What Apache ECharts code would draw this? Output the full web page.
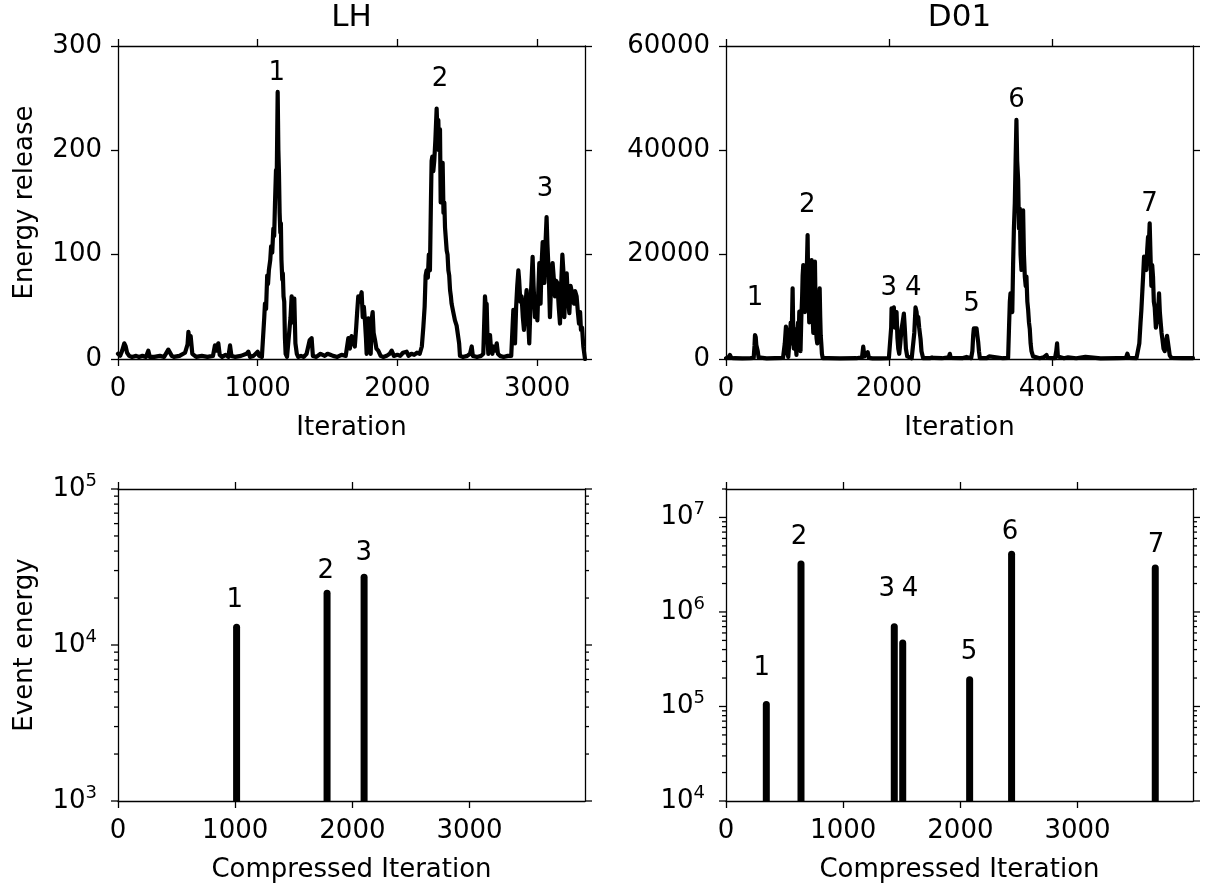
<!DOCTYPE html>
<html><head><meta charset="utf-8">
<script src="https://cdn.jsdelivr.net/npm/echarts@6/dist/echarts.min.js"></script>
<style>html,body{margin:0;padding:0;background:#fff;}#c{width:1206px;height:885px;}</style>
</head><body><div id="c"></div>
<script>
// ---------------- DATA ----------------
const panelTitles = ['LH', 'D01'];
const xNameTop = 'Iteration';
const xNameBottom = 'Compressed Iteration';
const yNameTop = 'Energy release';
const yNameBottom = 'Event energy';

// LH energy release time series [iteration, energy]
const lhSeries = [
[0,5],[15,3],[30,8],[45,15],[55,12],[65,6],[80,3],[100,2],[130,3],[150,2],[175,3],[200,2],[217,8],[228,2],[260,2],[300,3],[330,2],[360,9],[372,10],[385,3],[400,2],[440,3],[480,6],[498,14],[504,26],[512,18],[520,22],[532,5],[560,2],[600,3],[640,2],[680,3],[694,13],[705,8],[718,15],[728,4],[745,2],[770,4],[790,2],[802,13],[812,3],[840,2],[880,3],[920,5],[933,7],[945,2],[970,3],[1000,7],[1010,3],[1030,2],[1040,3],
[1047,40],[1052,53],[1060,48],[1068,80],[1074,72],[1080,85],[1090,95],[1096,108],[1104,102],[1112,125],[1118,118],[1124,150],[1131,181],[1136,170],[1143,256],[1148,200],[1152,180],[1157,140],[1162,121],[1166,130],[1170,95],[1176,76],[1180,82],[1185,60],[1190,55],[1195,20],[1200,5],[1210,2],[1220,3],[1235,40],[1243,60],[1250,35],[1255,50],[1262,58],[1270,15],[1280,5],[1290,2],[1310,3],[1330,2],[1350,5],[1372,18],[1386,20],[1395,3],[1420,2],[1450,5],[1480,3],[1500,5],[1520,4],[1540,3],[1570,2],[1600,4],[1630,3],
[1649,20],[1660,10],[1672,22],[1685,21],[1695,12],[1705,30],[1712,45],[1720,60],[1730,55],[1744,64],[1752,40],[1760,50],[1768,36],[1775,20],[1780,5],[1786,30],[1792,39],[1800,20],[1809,5],[1816,38],[1823,45],[1830,25],[1840,18],[1850,10],[1863,8],[1880,3],[1900,2],[1923,3],[1945,5],[1959,8],[1975,3],[2000,4],[2020,3],[2040,6],[2066,7],[2080,3],[2100,5],[2120,4],[2140,6],[2160,5],
[2175,12],[2186,31],[2195,50],[2202,80],[2209,85],[2218,78],[2225,100],[2233,85],[2240,150],[2245,190],[2250,194],[2257,180],[2264,190],[2272,210],[2281,240],[2287,215],[2293,229],[2298,200],[2305,220],[2310,150],[2316,170],[2324,188],[2330,140],[2336,150],[2341,126],[2347,115],[2353,104],[2359,100],[2365,85],[2371,80],[2377,66],[2383,60],[2388,53],[2400,45],[2412,37],[2424,32],[2436,31],[2442,15],[2448,3],[2470,2],[2500,3],[2520,5],[2532,12],[2540,3],[2570,2],[2600,3],
[2615,5],[2627,60],[2633,50],[2639,53],[2645,20],[2651,5],[2657,15],[2663,23],[2670,10],[2680,5],[2687,12],[2700,8],[2711,15],[2720,5],[2734,3],[2760,2],[2790,3],[2815,3],
[2830,47],[2836,30],[2842,15],[2850,50],[2858,70],[2866,85],[2872,75],[2880,55],[2889,60],[2898,40],[2906,28],[2915,50],[2925,66],[2935,40],[2944,15],[2955,60],[2962,80],[2968,98],[2975,70],[2985,40],[2993,55],[3002,37],[3010,70],[3016,92],[3020,75],[3025,53],[3032,90],[3040,112],[3046,90],[3052,73],[3060,110],[3068,136],[3074,110],[3080,92],[3086,70],[3092,40],[3100,70],[3111,92],[3118,80],[3128,60],[3136,75],[3145,73],[3155,50],[3164,34],[3172,70],[3181,100],[3188,85],[3195,40],[3203,70],[3212,82],[3220,60],[3231,44],[3240,70],[3247,69],[3255,60],[3264,53],[3272,65],[3283,60],[3292,45],[3300,34],[3308,45],[3314,28],[3322,30],[3331,12],[3343,0]
];

// D01 energy release time series [iteration, energy]
const d01Series = [
[0,150],[30,300],[49,770],[65,200],[100,150],[200,120],[300,150],[340,200],[350,2500],[356,4600],[365,4200],[372,2700],[380,3000],[390,1500],[400,300],[420,150],[500,130],[600,150],[700,200],
[710,400],[722,3000],[736,6200],[745,5000],[752,1200],[765,400],[775,2500],[785,4500],[795,7000],[805,3000],[818,13550],[825,6000],[832,2000],[840,4000],[847,5750],[855,3000],[865,800],[875,5000],[885,7000],[892,4000],[900,9070],[907,6000],[915,1500],[925,8000],[935,12000],[941,16000],[949,18020],[955,10000],[962,14000],[969,9000],[978,17000],[988,15000],[995,19000],[1002,23770],[1008,16000],[1015,12000],[1022,7000],[1030,14000],[1038,12000],[1045,17000],[1051,18980],[1058,14000],[1064,8000],[1072,5000],[1080,12000],[1086,15000],[1092,18660],[1098,12000],[1105,6000],[1112,4000],[1120,3000],[1128,8000],[1136,10000],[1150,13550],[1157,8000],[1163,4500],[1170,3000],[1178,1000],[1188,150],
[1250,150],[1400,120],[1600,150],[1670,300],[1685,2360],[1700,500],[1720,300],[1740,1300],[1755,200],[1800,130],[1900,120],[2000,150],
[2020,300],[2028,6000],[2033,9710],[2045,9000],[2061,9900],[2075,6000],[2085,8500],[2094,9000],[2105,4000],[2115,2000],[2127,1000],[2140,3000],[2155,5750],[2168,7000],[2184,8700],[2195,6000],[2209,2000],[2225,500],[2237,150],
[2280,150],[2300,400],[2312,5000],[2327,9900],[2340,9000],[2350,7000],[2360,8050],[2372,6000],[2389,3830],[2400,1500],[2421,150],
[2500,150],[2530,300],[2544,560],[2555,200],[2650,150],[2735,300],[2748,1000],[2760,200],[2900,150],[2953,400],[2970,150],
[3010,150],[3025,1500],[3035,4500],[3043,5880],[3060,5500],[3076,5880],[3086,4500],[3096,3320],[3106,1500],[3117,150],[3200,150],[3231,500],[3245,150],[3400,150],
[3464,200],[3475,6000],[3485,11000],[3493,12590],[3505,12500],[3515,9000],[3525,18000],[3535,25000],[3546,29850],[3556,38000],[3566,45820],[3575,38000],[3587,34320],[3597,25000],[3607,28850],[3617,20000],[3628,17060],[3638,22000],[3648,28510],[3658,20000],[3669,15780],[3680,14000],[3689,15780],[3700,11000],[3710,9390],[3720,7000],[3730,5750],[3740,3000],[3751,1500],[3770,500],[3791,150],
[3850,150],[3900,300],[3935,770],[3950,200],[4040,150],[4055,1500],[4065,3000],[4075,500],[4150,150],[4200,300],[4300,150],[4413,400],[4430,150],[4600,120],[4800,150],[4910,200],[4928,1000],[4945,200],[5040,150],
[5059,300],[5075,3000],[5090,7000],[5100,9390],[5112,13000],[5122,16000],[5133,19620],[5145,20000],[5162,17060],[5172,21000],[5182,23400],[5192,22000],[5202,26010],[5212,20000],[5223,14000],[5233,18000],[5243,15780],[5253,11000],[5264,9900],[5278,6000],[5292,5750],[5305,9000],[5317,12590],[5327,9000],[5337,7000],[5348,5000],[5358,3830],[5372,2000],[5387,1500],[5400,3000],[5415,4450],[5427,4450],[5437,2000],[5448,700],[5470,200],[5489,150],[5600,150],[5734,150]
];

// Event energies (compressed iteration, energy)
const lhEventIter = [1012, 1784, 2100];
const lhEventEnergy = [13700, 22600, 28600];
const d01EventIter = [344, 640, 1436, 1508, 2079, 2437, 3663];
const d01EventEnergy = [114000, 3500000, 760000, 510000, 209000, 4450000, 3170000];

// Peak annotation labels [x, y, text]
const lhPeakLabels = [[1136,274,'1'],[2305,268,'2'],[3057,163,'3']];
const d01PeakLabels = [[356,11690,'1'],[997,29520,'2'],[2000,13610,'3'],[2298,13610,'4'],[3015,10540,'5'],[3567,49640,'6'],[5199,29710,'7']];
const lhEventLabels = [[997,19400,'1'],[1773,29900,'2'],[2097,38700,'3']];
const d01EventLabels = [[305,252000,'1'],[623,6180000,'2'],[1371,1760000,'3'],[1570,1760000,'4'],[2073,378000,'5'],[2423,6980000,'6'],[3669,5050000,'7']];

// Axis ranges and tick values
const lhXMax = 3343, d01XMax = 5734, compXMax = 3985;
const lhXTicks = [0,1000,2000,3000];
const d01XTicks = [0,2000,4000];
const compXTicks = [0,1000,2000,3000];
const lhYMax = 300, lhYStep = 100;
const d01YMax = 60000, d01YStep = 20000;
const lhLogMin = 1e3, lhLogMax = 1e5;
const d01LogMin = 1e4, d01LogMax = 2e7;

// ---------------- CHART ----------------
const FONT = 'DejaVu Sans';
const FS = 26;
const black = '#000';
const axisLineStyle = {lineStyle: {color: black, width: 1.3}};
const tickStyle = (len) => ({show: true, inside: false, length: len, lineStyle: {color: black, width: 1.3}});
const plainFmt = v => String(v);

const grids = [
  {left:118, top:46, width:467, height:313},
  {left:726, top:46, width:467, height:313},
  {left:118, top:489, width:467, height:312},
  {left:726, top:489, width:467, height:312}
].map(g => Object.assign({outerBoundsMode:'none', containLabel:false}, g));

const xAxes = [], yAxes = [];
function addX(gi, max, ticks, name) {
  xAxes.push({gridIndex: gi, type:'value', position:'bottom', min:0, max:max,
    axisLine: Object.assign({show:true, onZero:false}, axisLineStyle),
    axisTick: Object.assign(tickStyle(7), {customValues: ticks}),
    axisLabel: {show:true, customValues: ticks, formatter: plainFmt, margin: 17, fontSize: FS, fontFamily: FONT, color: black},
    splitLine:{show:false},
    name: name, nameLocation:'middle', nameGap: 56,
    nameTextStyle:{fontSize:FS, fontFamily:FONT, color:black}});
  xAxes.push({gridIndex: gi, type:'value', position:'top', min:0, max:max,
    axisLine: Object.assign({show:true, onZero:false}, axisLineStyle),
    axisTick: Object.assign(tickStyle(7), {customValues: ticks}),
    axisLabel: {show:false}, splitLine:{show:false}});
}
function addYLin(gi, max, step, name) {
  yAxes.push({gridIndex: gi, type:'value', position:'left', min:0, max:max, interval:step,
    axisLine: Object.assign({show:true, onZero:false}, axisLineStyle),
    axisTick: tickStyle(7),
    axisLabel: {margin: 16, formatter: plainFmt, fontSize: FS, fontFamily: FONT, color: black},
    splitLine:{show:false},
    name: name, nameLocation:'middle', nameGap: 80,
    nameTextStyle:{fontSize:FS, fontFamily:FONT, color:black}});
  yAxes.push({gridIndex: gi, type:'value', position:'right', min:0, max:max, interval:step,
    axisLine: Object.assign({show:true, onZero:false}, axisLineStyle),
    axisTick: tickStyle(7), axisLabel:{show:false}, splitLine:{show:false}});
}
function supFmt(v) {
  const l = Math.log10(v), e = Math.round(l);
  if (Math.abs(l - e) > 1e-6) return '';
  return '{b|10}{s|' + e + '}';
}
function addYLog(gi, min, max, name) {
  yAxes.push({gridIndex: gi, type:'log', logBase:10, position:'left', min:min, max:max,
    axisLine: Object.assign({show:true, onZero:false}, axisLineStyle),
    axisTick: {show:false},
    axisLabel: {margin: 21, formatter: supFmt, color: black,
      rich: {b:{fontSize:FS, fontFamily:FONT, color:black, lineHeight:34},
             s:{fontSize:18, fontFamily:FONT, color:black, lineHeight:18, verticalAlign:'top'}}},
    splitLine:{show:false}, minorTick:{show:false},
    name: name, nameLocation:'middle', nameGap: 80,
    nameTextStyle:{fontSize:FS, fontFamily:FONT, color:black}});
  yAxes.push({gridIndex: gi, type:'log', logBase:10, position:'right', min:min, max:max,
    axisLine: Object.assign({show:true, onZero:false}, axisLineStyle),
    axisTick:{show:false}, axisLabel:{show:false}, splitLine:{show:false}});
}

addX(0, lhXMax, lhXTicks, xNameTop);   addYLin(0, lhYMax, lhYStep, yNameTop);
addX(1, d01XMax, d01XTicks, xNameTop); addYLin(1, d01YMax, d01YStep, '');
addX(2, compXMax, compXTicks, xNameBottom); addYLog(2, lhLogMin, lhLogMax, yNameBottom);
addX(3, compXMax, compXTicks, xNameBottom); addYLog(3, d01LogMin, d01LogMax, '');

function logTickValues(min, max) {
  const out = [];
  for (let d = Math.floor(Math.log10(min)); d <= Math.ceil(Math.log10(max)); d++) {
    for (let m = 1; m <= 9; m++) {
      const v = m * Math.pow(10, d);
      if (v >= min * 0.9999 && v <= max * 1.0001) out.push([0, v, m === 1 ? 1 : 0]);
    }
  }
  return out;
}
function logTickSeries(ai, min, max) {
  return {type:'custom', xAxisIndex: 2*ai, yAxisIndex: 2*ai, silent:true, clip:false, z:5,
    data: logTickValues(min, max),
    encode:{x:0, y:1},
    renderItem: function(params, api) {
      const cs = params.coordSys;
      const y = api.coord([0, api.value(1)])[1];
      const len = api.value(2) ? 7 : 4;
      const st = {stroke: black, lineWidth: 1.3};
      return {type:'group', children:[
        {type:'line', shape:{x1: cs.x - len, y1: y, x2: cs.x, y2: y}, style: st},
        {type:'line', shape:{x1: cs.x + cs.width, y1: y, x2: cs.x + cs.width + len, y2: y}, style: st}
      ]};
    }};
}
function eventBars(ai, iters, energies, ymin) {
  return {type:'custom', xAxisIndex: 2*ai, yAxisIndex: 2*ai, silent:true, clip:true, z:3,
    data: iters.map((x, i) => [x, energies[i]]),
    encode:{x:0, y:1},
    renderItem: function(params, api) {
      const p0 = api.coord([api.value(0), ymin]);
      const p1 = api.coord([api.value(0), api.value(1)]);
      return {type:'line', shape:{x1:p0[0], y1:p0[1] + 4, x2:p1[0], y2:p1[1] + 3.5},
        style:{stroke: black, lineWidth: 7, lineCap:'round'}};
    }};
}
function lineSeries(ai, data) {
  return {type:'line', xAxisIndex: 2*ai, yAxisIndex: 2*ai, data: data, showSymbol:false, symbol:'none',
    silent:true, sampling: null, smooth: false, z:3,
    lineStyle:{color: black, width: 4.2, join:'round', cap:'round'}};
}
function labelSeries(ai, labels) {
  return {type:'custom', xAxisIndex: 2*ai, yAxisIndex: 2*ai, silent:true, clip:false, z:6,
    data: labels.map(l => [l[0], l[1]]),
    encode:{x:0, y:1},
    renderItem: function(params, api) {
      const p = api.coord([api.value(0), api.value(1)]);
      return {type:'text', x: p[0], y: p[1],
        style:{text: labels[params.dataIndex][2], font: FS + 'px "DejaVu Sans"', fill: black, align:'center', verticalAlign:'middle'}};
    }};
}

const option = {
  animation: false,
  backgroundColor: '#fff',
  textStyle: {fontFamily: FONT},
  grid: grids,
  xAxis: xAxes,
  yAxis: yAxes,
  graphic: [
    {type:'text', x: 351.5, y: 18, style:{text: panelTitles[0], font: '31px "DejaVu Sans"', fill: black, align:'center', verticalAlign:'middle'}},
    {type:'text', x: 959.5, y: 18, style:{text: panelTitles[1], font: '31px "DejaVu Sans"', fill: black, align:'center', verticalAlign:'middle'}}
  ],
  series: [
    lineSeries(0, lhSeries),
    lineSeries(1, d01Series),
    eventBars(2, lhEventIter, lhEventEnergy, lhLogMin),
    eventBars(3, d01EventIter, d01EventEnergy, d01LogMin),
    logTickSeries(2, lhLogMin, lhLogMax),
    logTickSeries(3, d01LogMin, d01LogMax),
    labelSeries(0, lhPeakLabels),
    labelSeries(1, d01PeakLabels),
    labelSeries(2, lhEventLabels),
    labelSeries(3, d01EventLabels)
  ]
};
const chart = echarts.init(document.getElementById('c'), null, {renderer:'canvas'});
chart.setOption(option);
</script></body></html>
